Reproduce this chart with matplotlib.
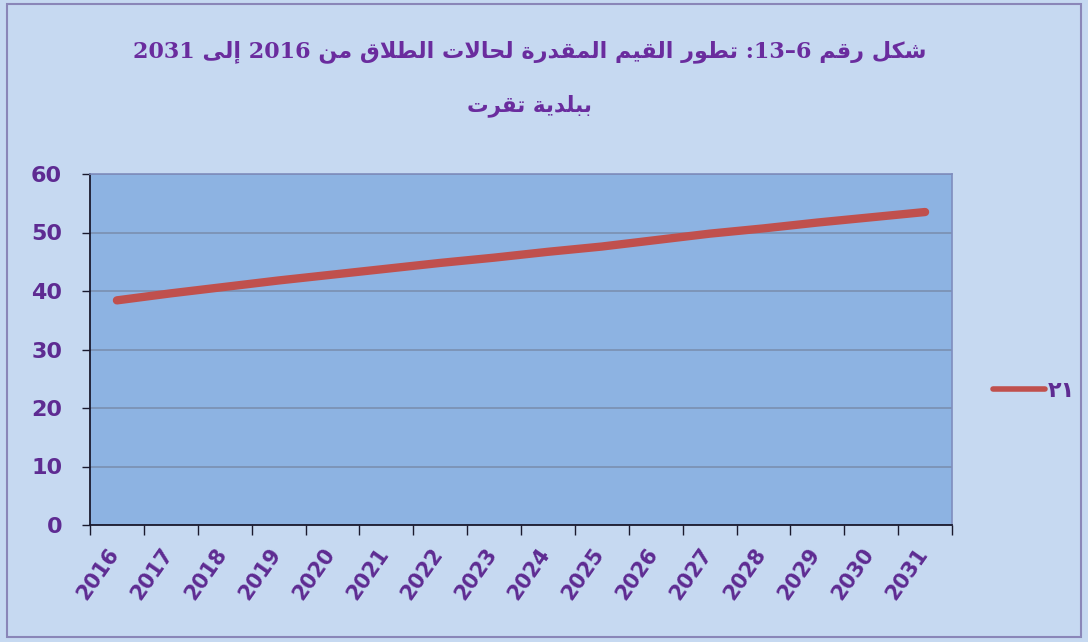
import matplotlib
matplotlib.use("Agg")
import matplotlib.pyplot as plt
from matplotlib.patches import Rectangle
import matplotlib.transforms as mtransforms

# ---------------- data ----------------
years = [str(y) for y in range(2016, 2032)]
values = [38.4, 39.6, 40.7, 41.8, 42.8, 43.8, 44.8, 45.7,
          46.7, 47.6, 48.7, 49.8, 50.7, 51.7, 52.6, 53.5]
series_name = "٢١"
y_ticks = [0, 10, 20, 30, 40, 50, 60]
title_line1 = "شكل رقم 6–13: تطور القيم المقدرة لحالات الطلاق من 2016 إلى 2031"
title_line2 = "ببلدية تقرت"

# ---------------- minimal Arabic shaping (presentation forms) ----------------
FORMS = {  # isolated, final, initial, medial
    'ا': ('\uFE8D', '\uFE8E', None, None),
    'إ': ('\uFE87', '\uFE88', None, None),
    'أ': ('\uFE83', '\uFE84', None, None),
    'ب': ('\uFE8F', '\uFE90', '\uFE91', '\uFE92'),
    'ة': ('\uFE93', '\uFE94', None, None),
    'ت': ('\uFE95', '\uFE96', '\uFE97', '\uFE98'),
    'ح': ('\uFEA1', '\uFEA2', '\uFEA3', '\uFEA4'),
    'د': ('\uFEA9', '\uFEAA', None, None),
    'ر': ('\uFEAD', '\uFEAE', None, None),
    'ش': ('\uFEB5', '\uFEB6', '\uFEB7', '\uFEB8'),
    'ط': ('\uFEC1', '\uFEC2', '\uFEC3', '\uFEC4'),
    'ق': ('\uFED5', '\uFED6', '\uFED7', '\uFED8'),
    'ك': ('\uFED9', '\uFEDA', '\uFEDB', '\uFEDC'),
    'ل': ('\uFEDD', '\uFEDE', '\uFEDF', '\uFEE0'),
    'م': ('\uFEE1', '\uFEE2', '\uFEE3', '\uFEE4'),
    'ن': ('\uFEE5', '\uFEE6', '\uFEE7', '\uFEE8'),
    'و': ('\uFEED', '\uFEEE', None, None),
    'ى': ('\uFEEF', '\uFEF0', None, None),
    'ي': ('\uFEF1', '\uFEF2', '\uFEF3', '\uFEF4'),
    'لا': ('\uFEFB', '\uFEFC', None, None),
    'لإ': ('\uFEF9', '\uFEFA', None, None),
    'لأ': ('\uFEF7', '\uFEF8', None, None),
}


def is_arabic(ch):
    return '\u0600' <= ch <= '\u06FF'


def shape_word(word):
    units = []
    i = 0
    while i < len(word):
        if word[i] == 'ل' and i + 1 < len(word) and word[i + 1] in 'اإأ':
            units.append(word[i:i + 2])
            i += 2
        else:
            units.append(word[i])
            i += 1
    out = []
    for k, u in enumerate(units):
        f = FORMS[u]
        prev_joins = k > 0 and FORMS[units[k - 1]][2] is not None
        next_joins = k + 1 < len(units) and f[2] is not None
        if prev_joins and next_joins:
            out.append(f[3])
        elif prev_joins:
            out.append(f[1])
        elif next_joins:
            out.append(f[2])
        else:
            out.append(f[0])
    return ''.join(reversed(out))


def visual_token(tok):
    if any(is_arabic(c) for c in tok):
        return shape_word(tok)
    runs, cur = [], ''
    for c in tok:
        if cur and (c.isdigit() != cur[-1].isdigit()):
            runs.append(cur)
            cur = ''
        cur += c
    runs.append(cur)
    return ''.join(reversed(runs))


def to_visual(line):
    return ' '.join(visual_token(t) for t in reversed(line.split(' ')))


# ---------------- figure ----------------
bg = '#C6D9F1'
plot_bg = '#8DB3E2'
purple = '#5E2B92'
title_purple = '#6A2C9E'
line_red = '#C0504D'

fig = plt.figure(figsize=(10.88, 6.42), dpi=100)
fig.patch.set_facecolor(bg)
fig.patches.append(Rectangle((0.006, 0.008), 0.988, 0.986, transform=fig.transFigure,
                             fill=False, edgecolor='#8A86B8', linewidth=1.5))

ax = fig.add_axes([90 / 1088, 1 - 525 / 642, (952 - 90) / 1088, (525 - 174) / 642])
ax.set_facecolor(plot_bg)

x = list(range(len(years)))
ax.plot(x, values, color=line_red, linewidth=6, solid_capstyle='round',
        solid_joinstyle='round', label=series_name, zorder=3)

ax.set_xlim(-0.5, len(years) - 0.5)
ax.set_ylim(0, 60)
ax.set_yticks(y_ticks)
ax.yaxis.grid(True, color='#7A8FB0', linewidth=1.2)
ax.set_axisbelow(True)

ax.set_xticks([i - 0.5 for i in range(len(years) + 1)], minor=False)
ax.set_xticklabels([])
ax.set_xticks(x, minor=True)
ax.set_xticklabels(years, minor=True, rotation=55, ha='right', va='top',
                   rotation_mode='anchor', fontsize=15, fontweight='bold',
                   color=purple, fontfamily='DejaVu Sans')
ax.tick_params(axis='x', which='major', length=7, width=1, color='#1a1a2e', direction='out')
ax.tick_params(axis='x', which='minor', length=0, pad=14)
ax.tick_params(axis='y', length=6, width=1, color='#1a1a2e', direction='out', pad=14)
for lab in ax.get_xticklabels(minor=True):
    lab.set_transform(lab.get_transform() + mtransforms.ScaledTranslation(-10 / 100, 0, fig.dpi_scale_trans))
for lab in ax.get_yticklabels():
    lab.set_fontsize(16)
    lab.set_fontweight('bold')
    lab.set_color(purple)
    lab.set_fontfamily('DejaVu Sans')

for s in ['top', 'right']:
    ax.spines[s].set_color('#7F8DBE')
    ax.spines[s].set_linewidth(1.2)
for s in ['left', 'bottom']:
    ax.spines[s].set_color('#1a1a2e')
    ax.spines[s].set_linewidth(1.3)

# legend
leg = fig.legend(handles=ax.get_lines(), labels=[series_name], loc='center left',
                 bbox_to_anchor=(984 / 1088, 1 - 391 / 642), frameon=False,
                 handlelength=2.35, handletextpad=0.1, borderpad=0.4, borderaxespad=0,
                 prop={'family': 'DejaVu Sans', 'weight': 'bold', 'size': 16})
for t in leg.get_texts():
    t.set_color(purple)
for h in leg.legend_handles:
    h.set_linewidth(4)

fig.text(0.487, 1 - 52 / 642, to_visual(title_line1), ha='center', va='center',
         fontsize=16, fontweight='bold', color=title_purple,
         family=['DejaVu Serif', 'DejaVu Sans'])
fig.text(0.487, 1 - 106 / 642, to_visual(title_line2), ha='center', va='center',
         fontsize=15.5, fontweight='bold', color=title_purple,
         family=['DejaVu Serif', 'DejaVu Sans'])

fig.savefig('out.png', dpi=100, facecolor=bg)
